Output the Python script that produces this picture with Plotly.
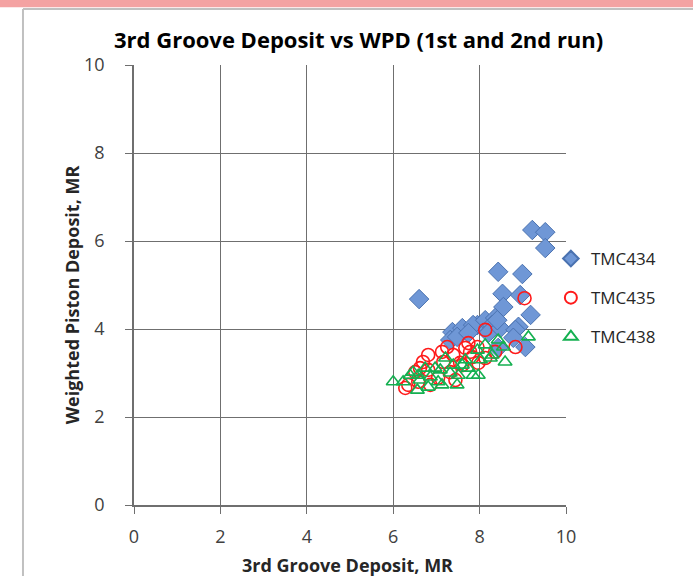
import plotly.graph_objects as go

# ---- data ----
tmc434_x = [6.60, 9.22, 9.52, 9.52, 8.43, 8.99, 8.53, 8.94, 8.55, 9.18, 8.90, 7.95, 7.37, 7.60,
            7.85, 8.13, 8.36, 8.29, 7.32, 7.48, 7.74, 8.20, 8.48, 8.83, 8.78, 9.06, 8.43, 8.41]
tmc434_y = [4.68, 6.25, 6.20, 5.84, 5.30, 5.25, 4.80, 4.77, 4.50, 4.32, 4.05, 4.09, 3.93, 4.02,
            4.09, 4.20, 4.25, 4.09, 3.75, 3.82, 3.91, 3.91, 4.02, 3.98, 3.80, 3.59, 3.57, 4.20]

tmc435_x = [9.04, 8.13, 8.83, 7.74, 7.95, 7.67, 7.25, 7.13, 6.81, 6.69, 6.62, 6.51, 7.39, 7.83,
            8.13, 8.36, 7.97, 6.28, 6.58, 7.04, 7.60, 7.16, 6.35, 7.55, 6.81, 7.32, 7.78, 6.86, 7.44]
tmc435_y = [4.70, 3.98, 3.59, 3.68, 3.59, 3.57, 3.59, 3.48, 3.41, 3.25, 3.11, 3.02, 3.41, 3.36,
            3.34, 3.48, 3.23, 2.66, 2.80, 2.89, 3.18, 3.25, 2.73, 3.23, 3.07, 3.02, 3.48, 2.73, 2.84]

tmc438_x = [6.00, 6.23, 6.39, 6.58, 6.56, 6.86, 6.97, 7.04, 7.21, 7.32, 7.51, 7.60, 7.74, 7.85,
            7.97, 7.48, 7.13, 6.81, 8.43, 8.59, 9.13, 8.55, 8.29, 6.74, 7.39, 6.46, 7.95, 8.25,
            8.02, 6.62, 7.09, 7.67, 8.13]
tmc438_y = [2.80, 2.80, 2.95, 2.95, 2.61, 2.91, 3.11, 2.80, 3.34, 3.00, 2.95, 3.18, 3.11, 2.95,
            2.95, 2.73, 2.73, 2.68, 3.75, 3.25, 3.82, 3.59, 3.41, 3.11, 3.18, 3.02, 3.52, 3.34,
            3.30, 2.84, 3.07, 3.30, 3.64]

tick_vals = [0, 2, 4, 6, 8, 10]
tick_text = ["0", "2", "4", "6", "8", "10"]

FONT = "Open Sans"

fig = go.Figure()
fig.add_trace(go.Scatter(
    x=tmc434_x, y=tmc434_y, mode="markers", name="TMC434", legendgroup="a",
    marker=dict(symbol="diamond", size=15, color="#6f97d6",
                line=dict(color="#4a72b0", width=1))))
fig.add_trace(go.Scatter(
    x=tmc435_x, y=tmc435_y, mode="markers", name="TMC435", legendgroup="b",
    marker=dict(symbol="circle-open", size=13, color="#ff1a1a",
                line=dict(color="#ff1a1a", width=1.6))))
fig.add_trace(go.Scatter(
    x=tmc438_x, y=tmc438_y, mode="markers", name="TMC438", legendgroup="c",
    marker=dict(symbol="triangle-up-open", size=12, color="#14b050",
                line=dict(color="#14b050", width=1.6))))

for upd, standoff in ((fig.update_xaxes, 8), (fig.update_yaxes, 17)):
    upd(range=[0, 10], tickmode="array", tickvals=tick_vals, ticktext=tick_text,
        showgrid=True, gridcolor="#6f6f6f", gridwidth=1,
        showline=True, linecolor="#6f6f6f", linewidth=1.5,
        ticks="outside", ticklen=7, tickcolor="#6f6f6f",
        ticklabelstandoff=standoff,
        tickfont=dict(family=FONT, size=18, color="#404040"),
        zeroline=False, fixedrange=True)

fig.update_layout(
    width=693, height=576,
    margin=dict(l=134, r=127, t=65, b=71),
    paper_bgcolor="white", plot_bgcolor="white",
    showlegend=True,
    legend=dict(x=0.965, xanchor="left", y=0.6, yanchor="top",
                font=dict(family=FONT, size=17, color="#262626"),
                itemsizing="constant", itemwidth=30,
                tracegroupgap=14, bgcolor="rgba(0,0,0,0)"),
    shapes=[
        # pink top band of the screenshot
        dict(type="rect", xref="paper", yref="paper", x0=-0.4, x1=1.4,
             y0=1.131, y1=1.16, fillcolor="#f4a2a2", line=dict(width=0), layer="below"),
        # outer chart border (top and left)
        dict(type="line", xref="paper", yref="paper", x0=-0.257, x1=1.4,
             y0=1.127, y1=1.127, line=dict(color="#c0c0c0", width=2)),
        dict(type="line", xref="paper", yref="paper", x0=-0.257, x1=-0.257,
             y0=1.127, y1=-0.3, line=dict(color="#c0c0c0", width=2)),
    ],
    annotations=[
        dict(text="<b>3rd Groove Deposit vs WPD (1st and 2nd run)</b>", xref="paper", yref="paper",
             x=0.52, y=1.06, xanchor="center", yanchor="middle", showarrow=False,
             font=dict(family=FONT, size=22, color="#000000")),
        dict(text="<b>Weighted Piston Deposit, MR</b>", xref="paper", yref="paper",
             x=-0.143, y=0.477, xanchor="center", yanchor="middle", showarrow=False,
             textangle=-90, font=dict(family=FONT, size=18, color="#262626")),
        dict(text="<b>3rd Groove Deposit, MR</b>", xref="paper", yref="paper",
             x=0.495, y=-0.136, xanchor="center", yanchor="middle", showarrow=False,
             font=dict(family=FONT, size=18, color="#262626")),
    ],
)

fig.write_html("out.html")
